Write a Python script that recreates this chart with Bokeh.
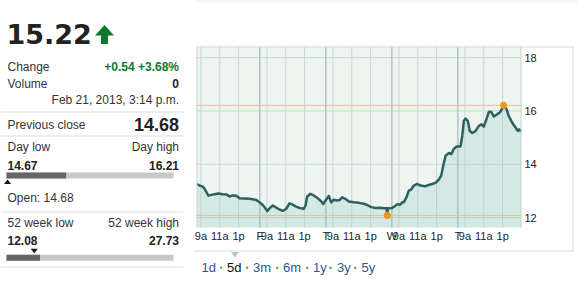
from bokeh.plotting import figure
from bokeh.models import Range1d
from bokeh.core.properties import value
from bokeh.embed import file_html
from bokeh.resources import INLINE

# ---------------- data ----------------
# chart x axis: minutes on a 5-day intraday axis (each day = 420 units)
times = [21, 36, 57, 72, 93, 111, 132, 157, 184, 210,
         227, 248, 270, 291, 322, 354, 382, 397, 418, 439,
         454, 467, 482, 503, 524, 545, 566, 588, 609, 626,
         647, 672, 700, 711, 721, 742, 763, 789, 810, 823,
         838, 859, 874, 891, 912, 929, 944, 965, 986, 1018,
         1050, 1082, 1103, 1129, 1156, 1188, 1209, 1226, 1231, 1234,
         1262, 1283, 1298, 1311, 1326, 1336, 1353, 1368, 1383, 1400,
         1421, 1442, 1468, 1495, 1517, 1538, 1559, 1574, 1587, 1602,
         1623, 1638, 1654, 1672, 1697, 1708, 1718, 1729, 1743, 1756,
         1772, 1793, 1814, 1831, 1845, 1862, 1877, 1892, 1909, 1931,
         1947, 1962, 1971, 1990, 2004, 2026, 2047, 2062, 2072, 2083]
prices = [13.26, 13.20, 13.16, 13.04, 12.82, 12.85, 12.87, 12.90, 12.87, 12.86,
          12.79, 12.83, 12.82, 12.72, 12.71, 12.70, 12.68, 12.66, 12.57, 12.47,
          12.36, 12.24, 12.35, 12.45, 12.37, 12.30, 12.25, 12.33, 12.53, 12.49,
          12.42, 12.36, 12.33, 12.45, 12.79, 12.89, 12.83, 12.72, 12.61, 12.51,
          12.64, 12.81, 12.57, 12.67, 12.64, 12.66, 12.76, 12.70, 12.60, 12.57,
          12.55, 12.52, 12.47, 12.39, 12.36, 12.37, 12.35, 12.35, 12.08, 12.35,
          12.36, 12.44, 12.51, 12.47, 12.57, 12.57, 12.76, 13.01, 13.05, 13.20,
          13.26, 13.20, 13.17, 13.22, 13.26, 13.30, 13.42, 13.57, 13.94, 14.32,
          14.42, 14.38, 14.57, 14.67, 14.67, 15.07, 15.63, 15.71, 15.63, 15.25,
          15.17, 15.25, 15.44, 15.50, 15.41, 15.69, 15.96, 15.97, 15.79, 15.88,
          15.94, 16.09, 16.21, 16.06, 15.81, 15.56, 15.38, 15.25, 15.31, 15.22]

time_labels = ["9a", "11a", "1p"]
time_offsets = [45, 165, 285]
day_letters = ["F", "T", "W", "T"]
day_length = 420
n_days = 5
y_ticks = [12, 14, 16, 18]
range_buttons = ["1d", "5d", "3m", "6m", "1y", "3y", "5y"]
selected_range = "5d"

last_price = 15.22
change = 0.54
change_pct = 3.68
volume = 0
timestamp = "Feb 21, 2013, 3:14 p.m."
prev_close = 14.68
day_low = 14.67
day_high = 16.21
open_price = 14.68
wk52_low = 12.08
wk52_high = 27.73

# ---------------- layout / styles ----------------
W, H = 578, 285
PA_L, PA_R, PA_T, PA_B = 196, 521, 46, 227      # chart plot area in page pixels
X0, X1 = 17, 2085                                # visible time span
Y0, Y1 = 11.625, 18.42                           # visible price span
kx = (X1 - X0) / (PA_R - PA_L)
ky = (Y1 - Y0) / (PA_B - PA_T)

FONT = "Liberation Sans"
TXT = "#333333"
DARK = "#222222"
GREEN = "#0d7a2b"
SEP = "#d5dedc"
BOX = "#d0dbd9"
GRID = "#c6d7d3"
DAYGRID = "#a8bcbb"

p = figure(width=W, height=H, title=None,
           x_range=Range1d(X0 - PA_L * kx, X1 + (W - PA_R) * kx),
           y_range=Range1d(Y0 - (H - PA_B) * ky, Y1 + PA_T * ky),
           x_axis_type=None, y_axis_type=None, min_border=0,
           outline_line_color=None, background_fill_color="white", border_fill_color="white",
           output_backend="svg", toolbar_location=None)
p.extra_x_ranges = {"px": Range1d(0, W)}
p.extra_y_ranges = {"px": Range1d(H, 0)}


def txt(x, y, s, size="12px", align="left", bold=False, color=TXT, font=FONT,
        xr="px", yr="px"):
    # y is the vertical centre of the text
    p.text(x=[x], y=[y], text=[s], text_font=value(font), text_font_size=value(size),
           text_align=align, text_baseline="middle", text_color=color,
           text_font_style="bold" if bold else "normal", x_range_name=xr, y_range_name=yr)


def hline(x0, x1, y, color, w=1):
    p.segment(x0=[x0], x1=[x1], y0=[y], y1=[y], line_color=color, line_width=w,
              x_range_name="px", y_range_name="px")


def vline(x, y0, y1, color, w=1):
    p.segment(x0=[x], x1=[x], y0=[y0], y1=[y1], line_color=color, line_width=w,
              x_range_name="px", y_range_name="px")


# ---------------- left panel ----------------
LX, RX = 7, 178.5
txt(6, 33.5, f"{last_price:.2f}", size="27px", bold=True, color=DARK, font="DejaVu Sans")
p.patch(x=[94.5, 104, 113.5, 107.5, 107.5, 100.5, 100.5, 94.5],
        y=[35, 24.5, 35, 35, 43.5, 43.5, 35, 35], fill_color=GREEN, line_color=None,
        x_range_name="px", y_range_name="px")

txt(LX, 66.8, "Change")
txt(RX, 66.8, f"{change:+.2f} {change_pct:+.2f}%", align="right", bold=True, color=GREEN)
txt(LX, 83.1, "Volume")
txt(RX, 83.1, f"{volume}", align="right", bold=True, color=DARK)
txt(RX, 99.8, timestamp, align="right")
hline(0, 183, 111.5, SEP)

txt(LX, 124.1, "Previous close")
txt(RX, 123.6, f"{prev_close:.2f}", size="18px", align="right", bold=True, color=DARK)
hline(0, 183, 135.5, SEP)

BAR_L, BAR_R = 6, 173


def bar_x(v, lo, hi):
    return BAR_L + (v - lo) / (hi - lo) * (BAR_R - BAR_L)


def range_bar(top, lo, hi, cur):
    p.quad(left=[BAR_L], right=[BAR_R], top=[top], bottom=[top + 6], fill_color="#c8c8c8",
           line_color=None, x_range_name="px", y_range_name="px")
    p.quad(left=[BAR_L], right=[bar_x(cur, lo, hi)], top=[top], bottom=[top + 6],
           fill_color="#666666", line_color=None, x_range_name="px", y_range_name="px")


txt(LX, 146.8, "Day low")
txt(RX, 146.8, "Day high", align="right")
txt(LX, 164.8, f"{day_low:.2f}", bold=True, color=DARK)
txt(RX, 164.8, f"{day_high:.2f}", align="right", bold=True, color=DARK)
range_bar(172, day_low, day_high, last_price)
ox = bar_x(open_price, day_low, day_high)
p.patch(x=[ox - 3.5, ox + 3.5, ox], y=[183.5, 183.5, 179], fill_color="#111111", line_color=None,
        x_range_name="px", y_range_name="px")
txt(LX, 197.5, f"Open: {open_price:.2f}")
hline(0, 183, 211.5, SEP)

txt(LX, 222.5, "52 week low")
txt(RX, 222.5, "52 week high", align="right")
txt(LX, 239.8, f"{wk52_low:.2f}", bold=True, color=DARK)
txt(RX, 239.8, f"{wk52_high:.2f}", align="right", bold=True, color=DARK)
wx = bar_x(prev_close, wk52_low, wk52_high)
p.patch(x=[wx - 3.5, wx + 3.5, wx], y=[248.3, 248.3, 252.8], fill_color="#111111", line_color=None,
        x_range_name="px", y_range_name="px")
range_bar(254.3, wk52_low, wk52_high, last_price)
hline(0, 183, 266.5, SEP)

# ---------------- chart ----------------
p.quad(left=[X0], right=[X1], bottom=[Y0], top=[Y1], fill_color="#eef5f1", line_color=None)

time_ticks = [d * day_length + o for d in range(n_days) for o in time_offsets]
day_ticks = [(d + 1) * day_length for d in range(len(day_letters))]
p.segment(x0=time_ticks, x1=time_ticks, y0=[Y0] * len(time_ticks), y1=[Y1] * len(time_ticks),
          line_color=GRID, line_width=1)
p.segment(x0=[X0] * len(y_ticks), x1=[X1] * len(y_ticks), y0=y_ticks, y1=y_ticks,
          line_color=GRID, line_width=1)
p.segment(x0=day_ticks, x1=day_ticks, y0=[Y0] * len(day_ticks), y1=[Y1] * len(day_ticks),
          line_color=DAYGRID, line_width=1.3)

p.varea(x=times, y1=[Y0] * len(times), y2=prices, fill_color="#8cc9c0", fill_alpha=0.25)

lo_i = prices.index(min(prices))
hi_i = prices.index(max(prices))
p.segment(x0=[X0, X0], x1=[X1, X1], y0=[prices[lo_i], prices[hi_i]], y1=[prices[lo_i], prices[hi_i]],
          line_color="#f4bb72", line_width=1)
p.line(times, prices, line_color="#2b6161", line_width=2.5, line_join="round")
p.scatter([times[lo_i], times[hi_i]], [prices[lo_i], prices[hi_i]], size=7,
          fill_color="#f7931e", line_color=None)

# tick labels
for d in range(n_days):
    for o, lab in zip(time_offsets, time_labels):
        txt(d * day_length + o, 235.6, lab, size="11px", align="center", color=DARK, xr="default")
for t, lab in zip(day_ticks, day_letters):
    txt(t, 235.6, lab, size="11px", align="center", color=DARK, xr="default")
for v in y_ticks:
    txt(524, v, f"{v}", size="11px", align="left", color=DARK, yr="default")

# frame / container lines
vline(PA_L + 0.5, PA_T, PA_B, "#c9d6d3")
vline(PA_R - 0.5, PA_T, PA_B, "#c9d6d3")
hline(PA_L, 573, PA_T + 0.5, BOX)
vline(572.5, PA_T, 251, BOX)
hline(193, 573, 250.5, BOX)
hline(195, W, 0.5, "#dde5e3")

# range selector
btn_x = [201, 226.5, 252.5, 282.5, 312.5, 336.5, 361]
dot_x = [220.7, 246.7, 276.7, 306.7, 330, 354.7]
for bx, lab in zip(btn_x, range_buttons):
    txt(bx, 267, lab, size="13px",
        color="#111111" if lab == selected_range else "#1f5a8c")
p.quad(left=[d - 1 for d in dot_x], right=[d + 1 for d in dot_x], top=[266.3] * len(dot_x),
       bottom=[268.3] * len(dot_x), fill_color="#4a9a3a", line_color=None,
       x_range_name="px", y_range_name="px")
sx = btn_x[range_buttons.index(selected_range)] + 8
p.patch(x=[sx - 4, sx + 4, sx], y=[251.5, 251.5, 257], fill_color="#b6c7c6", line_color=None,
        x_range_name="px", y_range_name="px")

open("out.html", "w").write(file_html(p, INLINE))
